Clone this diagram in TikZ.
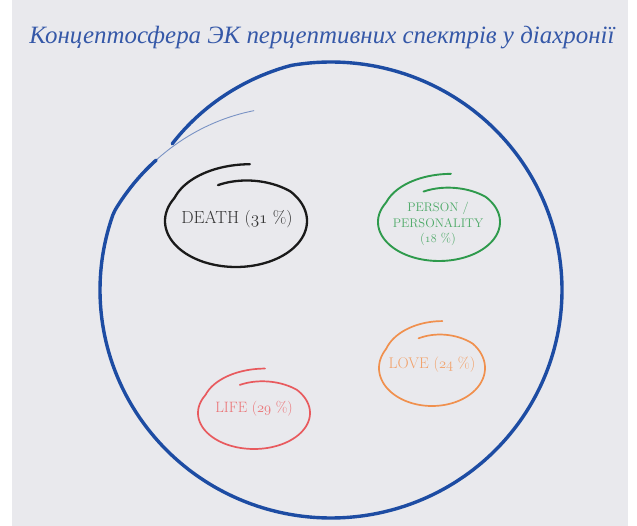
\documentclass[tikz,border=0pt]{standalone}
\usepackage{fontspec}
\usepackage{graphicx}
\newfontfamily\titlefont{Liberation Serif}
\definecolor{bgc}{HTML}{E9E9ED}
\definecolor{bigblue}{HTML}{1D4CA3}
\definecolor{titleblue}{HTML}{3558A8}
\definecolor{dgreen}{HTML}{2E9A4C}
\definecolor{dorange}{HTML}{F0904E}
\definecolor{dred}{HTML}{E85A5E}
\definecolor{dblack}{HTML}{1A1A1A}
\newcommand\handloop[6]{%
  \draw[#5, line width=#6, line cap=round, line join=round]
    plot[domain=81:468, samples=160, smooth]
    ({#1+#3*(1+0.25*max(0,(150-\x)/69)-0.18*max(0,(\x-400)/68))*cos(\x)},
     {#2-#4*(1+0.25*max(0,(150-\x)/69)-0.18*max(0,(\x-400)/68))*sin(\x)});
}
\newcommand\osn[1]{$\mathnormal{#1}$}
\tikzset{
  lbl/.style={align=center, inner sep=1pt},
}
\begin{document}
\begin{tikzpicture}[x=1pt,y=-1pt]
\useasboundingbox (0,0) rectangle (637,526);
\fill[white] (0,0) rectangle (637,526);
\fill[bgc] (12,0) rectangle (628,526);
% title
\node[text=titleblue, inner sep=0pt] (title) at (322,38)
  {\resizebox{585pt}{!}{\titlefont\itshape Концептосфера ЭК перцептивних спектрів у діахронії}};
% big hand-drawn circle
\draw[bigblue, line width=3.4pt, line cap=round]
  plot[domain=223:577, samples=220, smooth]
  ({331+231*(1-0.06*max(0,(260-\x)/37)-0.0031*max(0,\x-560))*cos(\x)},
   {290+228*(1-0.06*max(0,(260-\x)/37)-0.0031*max(0,\x-560))*sin(\x)});
\draw[bigblue, line width=0.9pt, opacity=0.55, line cap=round]
  plot[domain=572:607, samples=40, smooth]
  ({331+231*(1-0.0031*max(0,\x-560))*cos(\x)},
   {290+228*(1-0.0031*max(0,\x-560))*sin(\x)});
% small loops
\handloop{236}{221}{71}{46}{dblack}{2.3pt}
\handloop{439}{222}{61}{39}{dgreen}{1.9pt}
\handloop{432}{368}{53}{38}{dorange}{1.7pt}
\handloop{254}{413}{56}{36}{dred}{1.7pt}
% labels
\node[lbl, text=black!80, font=\fontsize{17.5}{20}\selectfont] (death) at (237,219)
  {DEATH (\osn{31}~\%)};
\node[lbl, text=dgreen!85!white, font=\fontsize{12.5}{15.5}\selectfont] (person) at (438,224)
  {PERSON /\\PERSONALITY\\(\osn{18}~\%)};
\node[lbl, text=dorange!85!white, font=\fontsize{15.5}{18}\selectfont] (love) at (432,365)
  {LOVE (\osn{24}~\%)};
\node[lbl, text=dred!85!white, font=\fontsize{15}{18}\selectfont] (life) at (254,409)
  {LIFE (\osn{29}~\%)};
\end{tikzpicture}
\end{document}
